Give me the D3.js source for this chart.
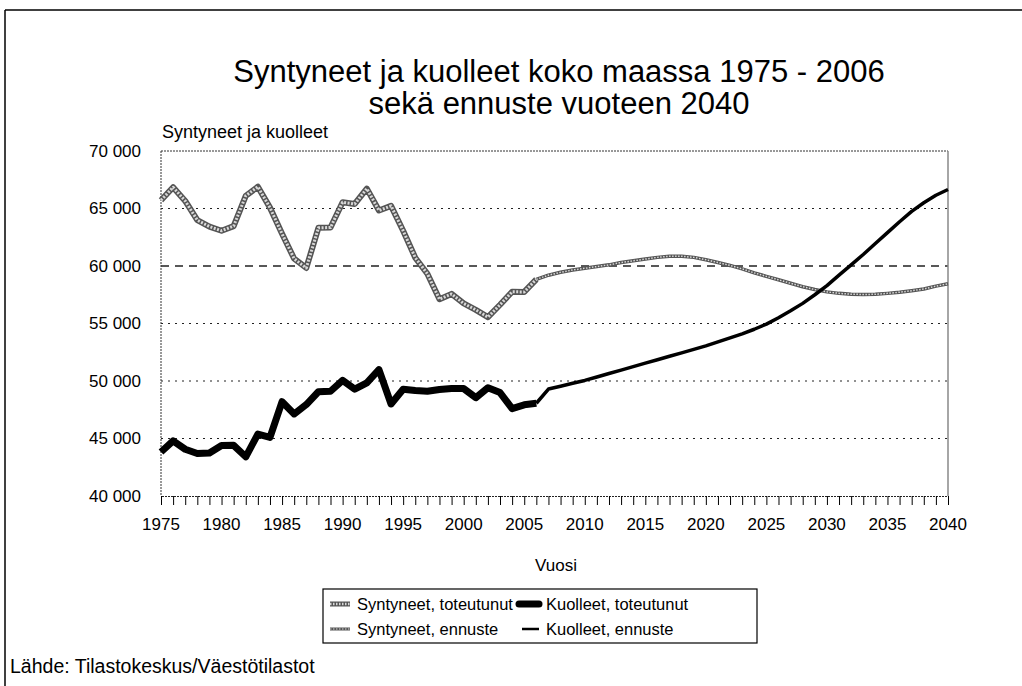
<!DOCTYPE html>
<html>
<head>
<meta charset="utf-8">
<script src="https://cdn.jsdelivr.net/npm/d3@7"></script>
<style>
  body { margin: 0; background: #fff; }
  text { font-family: "Liberation Sans", Arial, sans-serif; fill: #000; }
</style>
</head>
<body>
<script>
// actual years and values
const actualYears = d3.range(1975, 2007);
const birthsActual = [65719, 66846, 65659, 63983, 63428, 63064, 63469, 66106, 66892, 65076,
  62796, 60632, 59827, 63316, 63348, 65549, 65395, 66731, 64826, 65231,
  63067, 60723, 59329, 57108, 57574, 56742, 56189, 55555, 56630, 57758, 57745, 58840];
const deathsActual = [43828, 44786, 44065, 43692, 43738, 44398, 44404, 43408, 45388, 45098,
  48198, 47135, 47949, 49063, 49110, 50058, 49294, 49844, 50988, 48000,
  49280, 49167, 49108, 49262, 49345, 49339, 48550, 49418, 48996, 47600, 47928, 48065];

// projection (starts from the last actual year)
const projYears = d3.range(2006, 2041);
const birthsProj = [58840, 59200, 59450, 59650, 59800, 59950, 60100, 60300, 60450, 60600,
  60750, 60850, 60850, 60750, 60550, 60300, 60050, 59750, 59400, 59100,
  58800, 58500, 58200, 57950, 57750, 57620, 57550, 57520, 57540, 57620,
  57720, 57850, 58000, 58250, 58450];
const deathsProj = [48065, 49300, 49550, 49800, 50050, 50350, 50650, 50950, 51250, 51550,
  51850, 52150, 52450, 52750, 53050, 53400, 53750, 54100, 54500, 54950,
  55500, 56100, 56750, 57500, 58300, 59200, 60100, 61000, 61950, 62900,
  63850, 64750, 65500, 66150, 66650];

const yTicks = [40000, 45000, 50000, 55000, 60000, 65000, 70000];
const xLabelYears = d3.range(1975, 2041, 5);
const legendItems = [
  { label: "Syntyneet, toteutunut", kind: "birthsActual" },
  { label: "Kuolleet, toteutunut", kind: "deathsActual" },
  { label: "Syntyneet, ennuste", kind: "birthsProj" },
  { label: "Kuolleet, ennuste", kind: "deathsProj" }
];

const width = 1022, height = 686;
const plot = { left: 161, right: 948, top: 151, bottom: 496 };

const svg = d3.select("body").append("svg")
  .attr("width", width)
  .attr("height", height);

// outer frame (top + left)
svg.append("line").attr("x1", 5).attr("x2", width).attr("y1", 10).attr("y2", 10)
  .style("stroke", "#000").style("stroke-width", 1.5);
svg.append("line").attr("x1", 5).attr("x2", 5).attr("y1", 10).attr("y2", height)
  .style("stroke", "#000").style("stroke-width", 1.5);

// title
const title = svg.append("text")
  .attr("x", 559).attr("y", 82)
  .attr("text-anchor", "middle")
  .style("font-size", "31px");
title.append("tspan").attr("x", 559).attr("dy", 0).text("Syntyneet ja kuolleet koko maassa 1975 - 2006");
title.append("tspan").attr("x", 559).attr("dy", 32).text("sekä ennuste vuoteen 2040");

const x = d3.scaleLinear().domain([1975, 2040]).range([plot.left, plot.right]);
const y = d3.scaleLinear().domain([40000, 70000]).range([plot.bottom, plot.top]);

// gridlines
svg.selectAll(".grid")
  .data(yTicks.filter(d => d > 40000 && d < 70000))
  .enter().append("line")
  .attr("x1", plot.left).attr("x2", plot.right)
  .attr("y1", d => y(d)).attr("y2", d => y(d))
  .style("stroke", "#222")
  .style("stroke-width", d => d === 60000 ? 1.3 : 1)
  .style("stroke-dasharray", d => d === 60000 ? "8 6" : "2 5");

// plot border
svg.append("line").attr("x1", plot.left).attr("x2", plot.right).attr("y1", plot.top).attr("y2", plot.top)
  .style("stroke", "#333").style("stroke-dasharray", "2 1");
svg.append("line").attr("x1", plot.left).attr("x2", plot.left).attr("y1", plot.top).attr("y2", plot.bottom)
  .style("stroke", "#333").style("stroke-dasharray", "2 1");
svg.append("line").attr("x1", plot.right).attr("x2", plot.right).attr("y1", plot.top).attr("y2", plot.bottom)
  .style("stroke", "#888").style("stroke-width", 1.5);

// y axis labels
svg.selectAll(".ylab")
  .data(yTicks)
  .enter().append("text")
  .attr("x", 141).attr("y", d => y(d))
  .attr("dy", "0.35em")
  .attr("text-anchor", "end")
  .style("font-size", "17px")
  .text(d => d3.format(",")(d).replace(",", " "));

svg.append("text").attr("x", 162).attr("y", 138)
  .style("font-size", "18px")
  .text("Syntyneet ja kuolleet");

// x axis
const xAxis = svg.append("g").attr("transform", `translate(0,${plot.bottom})`)
  .call(d3.axisBottom(x).tickValues(d3.range(1975, 2041)).tickSize(9).tickFormat(""));
xAxis.select(".domain").style("stroke", "#222").style("stroke-dasharray", "2 1");
xAxis.selectAll(".tick line").style("stroke", "#000");

svg.selectAll(".xlab")
  .data(xLabelYears)
  .enter().append("text")
  .attr("x", d => x(d)).attr("y", 530)
  .attr("text-anchor", "middle")
  .style("font-size", "17px")
  .text(d => d);

svg.append("text").attr("x", 556).attr("y", 571)
  .attr("text-anchor", "middle")
  .style("font-size", "17px")
  .text("Vuosi");

// lines
const line = d3.line().x(d => x(d[0])).y(d => y(d[1]));
const zipped = (years, vals) => years.map((yr, i) => [yr, vals[i]]);

function drawTextured(g, data, outerW, innerW, dash) {
  g.append("path").attr("d", line(data))
    .style("fill", "none").style("stroke", "#555").style("stroke-width", outerW)
    .style("stroke-linejoin", "round");
  g.append("path").attr("d", line(data))
    .style("fill", "none").style("stroke", "#d8d8d8").style("stroke-width", innerW)
    .style("stroke-dasharray", dash).style("stroke-linejoin", "round");
}

const lines = svg.append("g");
drawTextured(lines, zipped(projYears, birthsProj), 3.5, 1.5, "1.5 1.5");
drawTextured(lines, zipped(actualYears, birthsActual), 6, 3, "2 1.5");

lines.append("path").attr("d", line(zipped(projYears, deathsProj)))
  .style("fill", "none").style("stroke", "#000").style("stroke-width", 3.5)
  .style("stroke-linejoin", "round");
lines.append("path").attr("d", line(zipped(actualYears, deathsActual)))
  .style("fill", "none").style("stroke", "#000").style("stroke-width", 7)
  .style("stroke-linejoin", "round");

// legend
const legend = svg.append("g");
legend.append("rect").attr("x", 323).attr("y", 589).attr("width", 434).attr("height", 54)
  .style("fill", "#fff").style("stroke", "#000").style("stroke-width", 1.2);

const legendPos = [[330, 604], [519, 604], [330, 629], [519, 629]];
legendItems.forEach((item, i) => {
  const [lx, ly] = legendPos[i];
  const g = legend.append("g");
  const seg = [[lx, ly], [lx + 20, ly]];
  const p = d3.line();
  if (item.kind === "birthsActual" || item.kind === "birthsProj") {
    const big = item.kind === "birthsActual";
    g.append("path").attr("d", p(seg)).style("stroke", "#555").style("stroke-width", big ? 5 : 3);
    g.append("path").attr("d", p(seg)).style("stroke", "#d8d8d8").style("stroke-width", big ? 2.5 : 1.2)
      .style("stroke-dasharray", "1.5 1.5");
  } else {
    const big = item.kind === "deathsActual";
    const s = big ? seg : [[lx + 3, ly], [lx + 20, ly]];
    g.append("path").attr("d", p(s)).style("stroke", "#000")
      .style("stroke-width", big ? 7 : 2.5)
      .style("stroke-linecap", big ? "round" : "butt");
  }
  g.append("text").attr("x", lx + 27).attr("y", ly).attr("dy", "0.35em")
    .style("font-size", "16.5px").text(item.label);
});

svg.append("text").attr("x", 10).attr("y", 673)
  .style("font-size", "19.5px")
  .text("Lähde: Tilastokeskus/Väestötilastot");
</script>
</body>
</html>
